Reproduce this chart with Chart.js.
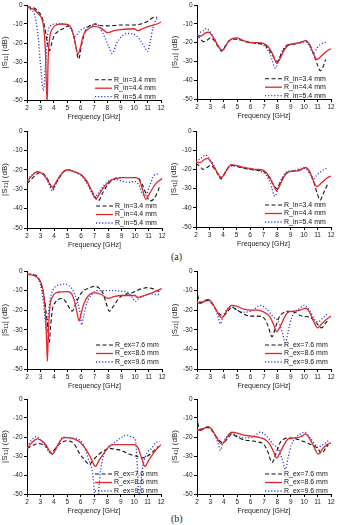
<!DOCTYPE html>
<html>
<head>
<meta charset="utf-8">
<script src="https://cdn.jsdelivr.net/npm/chart.js@4.4.1/dist/chart.umd.min.js"></script>
<style>
  html, body { margin: 0; padding: 0; background: #fff; }
  body { width: 340px; height: 525px; position: relative; overflow: hidden; }
  canvas { position: absolute; }
  .tag { position: absolute; font-family: "Liberation Serif", "DejaVu Serif", serif; font-size: 10px; color: #222; line-height: 12px; }
</style>
</head>
<body>
<div class="tag" style="left:171px;top:251px">(a)</div>
<div class="tag" style="left:171px;top:513px">(b)</div>
<script>
// ======================= DATA =========================
const FREQ_TICKS = [2, 3, 4, 5, 6, 7, 8, 9, 10, 11, 12];
const DB_TICKS = [0, -10, -20, -30, -40, -50];
const X_TITLE = "Frequency [GHz]";
const Y_TITLES = ["|S₁₁| (dB)", "|S₂₁| (dB)", "|S₃₁| (dB)", "|S₄₁| (dB)"];
const LABELS_A = ["R_in=3.4 mm", "R_in=4.4 mm", "R_in=5.4 mm"];
const LABELS_B = ["R_ex=7.6 mm", "R_ex=8.6 mm", "R_ex=9.6 mm"];

// (a) |S11|
const a11_34 = [[2,-1],[2.5,-1.5],[2.9,-4],[3.1,-6],[3.3,-11],[3.5,-19],[3.68,-24],[3.85,-20],[4.0,-16.5],[4.3,-14],[4.7,-12.5],[5.1,-11],[5.4,-14],[5.6,-20],[5.85,-28.5],[6.1,-20],[6.4,-13],[6.8,-10.5],[7.1,-10],[7.5,-10.8],[8,-11],[8.5,-10.8],[9,-10.5],[10,-10.5],[10.5,-10],[11,-8.5],[11.5,-6.5],[11.7,-6.5]];
const a11_44 = [[2,-1.2],[2.5,-2.3],[2.9,-5],[3.1,-7],[3.25,-12],[3.38,-25],[3.5,-52],[3.58,-28],[3.7,-17],[3.9,-12.5],[4.2,-10.5],[4.6,-10],[5.0,-10.2],[5.2,-11],[5.4,-14],[5.6,-20],[5.8,-26],[6.0,-22],[6.2,-16],[6.5,-13],[7.0,-11.2],[7.5,-12],[8.0,-14.5],[8.5,-13.5],[9,-13],[10,-12.5],[10.25,-13.5],[10.6,-12.5],[11.2,-11],[11.7,-10],[12,-9]];
const a11_54 = [[2,-2],[2.3,-2.6],[2.5,-4],[2.65,-8],[2.85,-18],[3.05,-35],[3.22,-45],[3.38,-32],[3.55,-15],[3.75,-11],[4.1,-10],[4.6,-10],[5.0,-10.5],[5.3,-13],[5.6,-16.5],[5.9,-14],[6.3,-12],[6.8,-11],[7.1,-10],[7.4,-11.5],[7.8,-17],[8.1,-22],[8.35,-25.5],[8.7,-20],[9,-17],[9.5,-15],[10,-15.5],[10.4,-18],[10.8,-22.5],[11.0,-24.5],[11.2,-19],[11.4,-12],[11.6,-8],[11.8,-7]];

// (a) |S21|
const a21_34 = [[2,-16],[2.2,-17.5],[2.5,-19.5],[2.8,-18.5],[3.0,-17.5],[3.3,-19],[3.6,-22.5],[3.85,-24.5],[4.1,-22],[4.4,-19],[4.7,-18],[5.2,-18.5],[5.6,-19.5],[6,-20],[6.5,-20.5],[7,-21],[7.4,-24],[7.7,-27.5],[8,-30],[8.3,-26],[8.7,-21.5],[9,-21],[9.5,-20.5],[10.1,-19],[10.4,-21],[10.7,-26],[11,-32],[11.2,-35],[11.4,-33],[11.6,-29]];
const a21_44 = [[2,-16],[2.3,-16.5],[2.6,-15],[2.85,-14.5],[3.1,-16],[3.4,-19.5],[3.7,-23],[3.85,-24],[4.0,-23.5],[4.3,-20],[4.6,-18],[5.0,-17.5],[5.5,-19],[6,-20],[6.5,-20],[7,-20.5],[7.4,-23],[7.7,-27],[7.95,-31],[8.2,-28.5],[8.5,-24],[8.8,-21.5],[9.2,-20.5],[9.7,-20],[10.1,-19],[10.4,-21],[10.7,-26],[10.95,-29],[11.3,-27],[11.7,-24.5],[12,-23.3]];
const a21_54 = [[2,-15],[2.4,-14],[2.7,-12.5],[3.0,-14.5],[3.3,-18],[3.6,-22],[3.85,-24.5],[4.1,-22],[4.4,-19],[4.7,-18],[5.2,-18.5],[5.7,-19.5],[6.2,-20],[6.8,-21],[7.2,-23],[7.5,-27],[7.85,-33.5],[8.1,-29],[8.4,-24],[8.8,-21],[9.3,-20.5],[9.8,-20],[10.1,-19.5],[10.4,-22],[10.7,-26],[10.95,-23],[11.2,-21],[11.5,-20],[11.7,-19.5]];

// (a) |S31|
const a31_34 = [[2,-27],[2.3,-25],[2.6,-23],[2.9,-21.5],[3.2,-22],[3.5,-24.5],[3.7,-27.5],[3.9,-30],[4.1,-27.5],[4.4,-24],[4.7,-21],[5.0,-20],[5.5,-21],[6.0,-22.5],[6.4,-26],[6.8,-31],[7.1,-34.5],[7.3,-36],[7.6,-32],[8.0,-27.5],[8.5,-24.5],[9,-24],[9.5,-24],[10.2,-24],[10.5,-27],[10.8,-32],[11.1,-36],[11.4,-35],[11.7,-31],[11.8,-29]];
const a31_44 = [[2,-26],[2.3,-23.5],[2.6,-21.5],[2.8,-21],[3.1,-21.8],[3.4,-24],[3.7,-27.5],[3.9,-29],[4.1,-27],[4.4,-23.5],[4.7,-21],[5.0,-20],[5.5,-21],[6.0,-22.5],[6.4,-25.5],[6.8,-31],[7.1,-35],[7.4,-32],[7.8,-28],[8.2,-25.5],[8.6,-24.5],[9,-24],[10,-24],[10.3,-25],[10.55,-30],[10.8,-35.2],[11.1,-32],[11.5,-27.5],[12,-24.5]];
const a31_54 = [[2,-25],[2.4,-22.5],[2.7,-21],[3.0,-21.5],[3.3,-23],[3.6,-27],[3.9,-31],[4.1,-28],[4.4,-24],[4.7,-21],[5.0,-20],[5.5,-21],[6.0,-23],[6.4,-26.5],[6.8,-32],[7.0,-34],[7.3,-32],[7.7,-28],[8.1,-25.5],[8.6,-25],[9.1,-26],[9.6,-26.5],[10,-26],[10.3,-28],[10.6,-33],[10.8,-33],[11.1,-28],[11.4,-23],[11.7,-22]];

// (a) |S41|
const a41_34 = [[2,-17],[2.3,-18.5],[2.5,-20],[2.8,-19],[3.1,-18],[3.4,-20],[3.7,-23.5],[3.85,-25],[4.1,-22.5],[4.4,-19],[4.7,-18],[5.3,-19],[6,-20],[6.5,-20.5],[7,-21],[7.4,-24],[7.7,-27.5],[8,-30],[8.3,-26],[8.7,-22],[9.1,-21],[9.6,-20.5],[10.1,-19],[10.4,-21],[10.7,-26],[11.0,-33],[11.2,-36],[11.4,-33],[11.6,-30],[11.8,-27]];
const a41_44 = [[2,-16],[2.3,-16.5],[2.6,-15],[2.85,-14.3],[3.1,-16],[3.4,-19.5],[3.7,-23],[3.85,-24],[4.0,-23.5],[4.3,-20],[4.6,-17.5],[5.0,-18],[5.5,-19],[6,-19.5],[6.5,-20],[7,-20.5],[7.4,-23.5],[7.7,-27.5],[7.95,-31],[8.2,-28.5],[8.5,-24],[8.8,-21.5],[9.2,-21],[9.7,-20.5],[10.1,-19],[10.4,-21],[10.7,-26],[10.95,-29],[11.3,-27],[11.7,-24.5],[12,-23.5]];
const a41_54 = [[2,-16],[2.3,-14.5],[2.5,-13.5],[2.7,-12.5],[3.0,-14.5],[3.3,-17.5],[3.6,-22],[3.85,-24.5],[4.1,-22],[4.4,-19],[4.7,-18],[5.2,-18.5],[5.7,-19.5],[6.2,-20],[6.8,-21],[7.2,-23],[7.5,-27],[7.85,-34],[8.1,-29],[8.4,-24],[8.8,-21],[9.3,-20.5],[9.8,-19.5],[10.1,-19.5],[10.4,-22],[10.7,-25],[10.95,-23],[11.2,-21.5],[11.5,-20],[11.8,-19]];

// (b) |S11|
const b11_76 = [[2,-1.5],[2.5,-2],[2.8,-3],[3.0,-6],[3.2,-11],[3.4,-20],[3.55,-30],[3.65,-36.5],[3.75,-28],[3.9,-19],[4.1,-16],[4.3,-14.5],[4.6,-14],[4.9,-16],[5.2,-19.5],[5.35,-20.5],[5.6,-17],[5.9,-12.5],[6.2,-10],[6.6,-8.8],[7.0,-7.8],[7.3,-8.5],[7.6,-11],[7.85,-16],[8.1,-20.5],[8.4,-18],[8.8,-14],[9.2,-12],[9.6,-11.5],[10,-10.5],[10.5,-9],[10.9,-8.5],[11.3,-9],[11.6,-10],[11.8,-10.5]];
const b11_86 = [[2,-1.7],[2.5,-2.2],[2.8,-3.5],[3.0,-5.5],[3.2,-10],[3.35,-20],[3.45,-35],[3.51,-46],[3.58,-32],[3.7,-18],[3.9,-13],[4.2,-11],[4.5,-10.7],[5.0,-10.5],[5.3,-11.5],[5.5,-15],[5.7,-21],[5.85,-25.5],[6.0,-22],[6.2,-17],[6.5,-13],[7.0,-11],[7.5,-12],[8.0,-14],[8.5,-13],[9,-12.5],[10,-12.5],[10.2,-13.5],[10.7,-12.5],[11.3,-11],[12,-9]];
const b11_96 = [[2,-1.5],[2.5,-2],[2.8,-3.5],[3.0,-7],[3.2,-15],[3.35,-25],[3.45,-30],[3.55,-24],[3.7,-15],[3.9,-10],[4.2,-7.5],[4.5,-7],[4.8,-6.5],[5.1,-7.5],[5.4,-10],[5.7,-15],[5.95,-22],[6.05,-27.5],[6.2,-23],[6.45,-16],[6.8,-12],[7.2,-10],[8,-10],[8.5,-10],[9,-10.3],[9.5,-11],[9.8,-13.5],[10.0,-15.5],[10.3,-14],[10.7,-12.5],[11.1,-11.5],[11.5,-12],[11.8,-12]];

// (b) |S21|
const b21_76 = [[2,-9],[2.1,-14],[2.2,-16],[2.5,-15.5],[2.8,-15],[3.1,-16.5],[3.4,-19.5],[3.7,-22],[3.95,-23],[4.2,-21.5],[4.6,-18.5],[5.0,-20],[5.5,-22],[6.0,-23],[6.5,-23],[7.0,-24],[7.3,-28],[7.6,-33.5],[7.85,-29],[8.1,-24],[8.4,-21.5],[8.8,-20.5],[9.3,-21],[9.8,-23],[10.4,-23.5],[10.9,-26.5],[11.3,-29],[11.6,-26.5],[11.8,-25]];
const b21_86 = [[2,-16],[2.3,-16.5],[2.6,-15],[2.85,-14.5],[3.1,-16],[3.4,-19.5],[3.7,-23],[3.85,-24],[4.0,-23],[4.3,-19.5],[4.6,-17.5],[5.0,-18],[5.5,-19.5],[6,-20],[6.5,-20],[7,-21],[7.4,-23],[7.7,-27],[7.95,-31],[8.2,-28.5],[8.5,-24],[8.8,-21],[9.2,-20.5],[9.7,-20],[10.1,-19],[10.4,-21],[10.7,-25.5],[11.0,-29],[11.3,-27],[11.7,-24.5],[12,-23]];
const b21_96 = [[2,-16],[2.4,-16],[2.8,-15],[3.1,-16],[3.4,-20],[3.6,-24],[3.75,-27],[3.9,-24],[4.1,-21],[4.5,-18],[5.0,-20],[5.5,-21],[6.2,-20],[6.7,-17.5],[7.2,-19.5],[7.7,-23.5],[8.05,-25.5],[8.35,-31],[8.6,-36.5],[8.8,-31],[9.05,-24],[9.3,-21],[9.7,-19],[10.0,-17.5],[10.4,-20],[10.8,-25],[11.0,-26],[11.4,-24],[11.7,-22]];

// (b) |S31|
const b31_76 = [[2,-26],[2.4,-24.5],[2.8,-23.5],[3.2,-24],[3.5,-25.5],[3.8,-28.5],[4.0,-27],[4.3,-24.5],[4.7,-22.5],[5.0,-22],[5.5,-23.5],[5.95,-29],[6.3,-32],[6.65,-34.5],[6.9,-32.5],[7.3,-29.5],[7.8,-27],[8.2,-26],[8.6,-26.5],[9.0,-27],[9.6,-29],[10.1,-30],[10.6,-31],[11.0,-30],[11.5,-27],[11.8,-25]];
const b31_86 = [[2,-26],[2.3,-23.5],[2.6,-21.5],[2.8,-21],[3.1,-22],[3.4,-24],[3.7,-27.5],[3.9,-29],[4.1,-27],[4.4,-23],[4.7,-20.5],[4.9,-20.3],[5.5,-21],[6.0,-23],[6.4,-26.5],[6.8,-31.5],[7.1,-35.5],[7.4,-32],[7.8,-28],[8.2,-24.5],[8.6,-24],[9,-24],[10,-24],[10.3,-26],[10.55,-31],[10.8,-35.5],[11.1,-32],[11.6,-27],[12,-24]];
const b31_96 = [[2,-25],[2.3,-22],[2.7,-19.8],[3.0,-21.5],[3.3,-24],[3.6,-27.5],[3.9,-29],[4.1,-27],[4.4,-23],[4.7,-20],[5.2,-20.5],[5.8,-21],[6.2,-24],[6.55,-31],[6.95,-42],[7.05,-51],[7.3,-51],[7.45,-40],[7.7,-30],[8.2,-25],[8.7,-22],[9.1,-20],[9.45,-19],[9.8,-20],[10.1,-22],[10.25,-38],[10.35,-51],[10.5,-44],[10.66,-35],[11.0,-28],[11.3,-26],[11.6,-23],[11.9,-22.4]];

// (b) |S41|
const b41_76 = [[2,-9],[2.1,-14],[2.2,-16],[2.5,-15.5],[2.8,-15],[3.1,-16.5],[3.4,-19.5],[3.7,-22],[3.95,-23],[4.2,-21.5],[4.6,-18.5],[5.0,-20],[5.5,-21.5],[6.0,-22],[6.5,-22.5],[7.0,-24],[7.3,-28],[7.6,-33.5],[7.9,-28.5],[8.2,-23],[8.5,-21],[8.9,-20.5],[9.4,-21],[10,-22.5],[10.5,-24],[11,-26],[11.3,-28.5],[11.6,-26],[11.8,-24]];
const b41_86 = [[2,-16.3],[2.3,-16.5],[2.6,-15],[2.85,-14.5],[3.1,-16],[3.4,-19.5],[3.7,-23],[3.85,-23.8],[4.0,-23],[4.3,-19.5],[4.6,-17.5],[5.0,-18],[5.5,-19],[6,-19.5],[6.5,-20],[7,-21],[7.4,-23.5],[7.7,-27.5],[7.95,-31],[8.2,-28],[8.5,-24],[8.8,-21],[9.2,-20.5],[9.7,-20],[10.1,-18.5],[10.5,-22],[10.85,-27],[11.05,-29],[11.4,-26],[11.7,-24],[12,-23]];
const b41_96 = [[2,-16],[2.4,-16],[2.8,-15],[3.1,-16],[3.4,-20],[3.6,-24],[3.75,-27],[3.9,-24],[4.1,-21],[4.5,-18],[5.0,-19.5],[5.5,-20.5],[6.2,-20],[6.7,-17.5],[7.2,-19.5],[7.7,-24],[8.05,-26],[8.35,-31.5],[8.6,-37],[8.8,-31],[9.05,-24],[9.3,-21],[9.7,-18.5],[10.0,-17.5],[10.4,-20],[10.8,-24],[11.0,-25.5],[11.4,-24],[11.8,-22]];

// ======================= STYLES =========================
const LINE_STYLES = [
  { borderColor: "#111", borderDash: [4, 2.5], borderWidth: 1.1, order: 1 },
  { borderColor: "#e0262e", borderDash: [], borderWidth: 1.3, order: 0 },
  { borderColor: "#2432c8", borderDash: [1.1, 2], borderWidth: 1.3, order: 2 }
];
const TICK_FONT = { family: "'Liberation Sans', Arial, sans-serif", size: 6.5 };
const TITLE_FONT = { family: "'Liberation Sans', Arial, sans-serif", size: 7 };
const YTITLE_FONT = { family: "'Liberation Sans', Arial, sans-serif", size: 8 };

// legend drawn inside the plot, bottom right
const insideLegend = {
  id: "insideLegend",
  afterDatasetsDraw(chart, args, opts) {
    const ctx = chart.ctx, a = chart.chartArea;
    ctx.save();
    ctx.font = "7px 'Liberation Sans', Arial, sans-serif";
    ctx.textBaseline = "middle";
    chart.data.datasets.forEach((ds, i) => {
      const y = a.bottom - opts.bottom - (2 - i) * 8.5;
      ctx.strokeStyle = ds.borderColor;
      ctx.lineWidth = ds.borderWidth;
      ctx.setLineDash(ds.borderDash || []);
      ctx.beginPath();
      ctx.moveTo(a.right - 66, y);
      ctx.lineTo(a.right - 49, y);
      ctx.stroke();
      ctx.setLineDash([]);
      ctx.fillStyle = "#111";
      ctx.fillText(ds.label, a.right - 47, y);
    });
    ctx.restore();
  }
};

// ======================= PANELS =========================
function makePanel(box, yTitle, labels, series, legendBottom) {
  const w = box.R - box.L + 36, h = box.B - box.T + 28;
  const cv = document.createElement("canvas");
  cv.width = w; cv.height = h;
  cv.style.left = (box.L - 27) + "px";
  cv.style.top = (box.T - 6) + "px";
  cv.style.width = w + "px";
  cv.style.height = h + "px";
  document.body.appendChild(cv);

  new Chart(cv, {
    type: "line",
    data: {
      datasets: series.map((pts, i) => ({
        label: labels[i],
        data: pts.map(([x, y]) => ({ x, y })),
        ...LINE_STYLES[i],
        pointRadius: 0,
        fill: false,
        cubicInterpolationMode: "monotone"
      }))
    },
    options: {
      responsive: false,
      animation: false,
      events: [],
      layout: { padding: { top: 6, right: 9, left: 0, bottom: 0 } },
      plugins: { legend: { display: false }, tooltip: { enabled: false }, insideLegend: { bottom: legendBottom } },
      scales: {
        x: {
          type: "linear", min: 2, max: 12,
          afterBuildTicks: s => { s.ticks = FREQ_TICKS.map(v => ({ value: v })); },
          afterFit: s => { s.height = 22; },
          ticks: { font: TICK_FONT, color: "#222", padding: 1, maxRotation: 0, autoSkip: false },
          grid: { drawOnChartArea: false, drawTicks: true, tickLength: 3, color: "#000" },
          border: { display: true, color: "#000", width: 1 },
          title: { display: true, text: X_TITLE, font: TITLE_FONT, color: "#222", padding: { top: 0, bottom: 1 } }
        },
        y: {
          type: "linear", min: -50, max: 0,
          afterBuildTicks: s => { s.ticks = DB_TICKS.map(v => ({ value: v })); },
          afterFit: s => { s.width = 27; },
          ticks: { font: TICK_FONT, color: "#222", padding: 1.5, autoSkip: false },
          grid: { drawOnChartArea: false, drawTicks: true, tickLength: 3, color: "#000" },
          border: { display: true, color: "#000", width: 1 },
          title: { display: true, text: yTitle, font: YTITLE_FONT, color: "#222", padding: 0 }
        }
      }
    },
    plugins: [insideLegend]
  });
}

makePanel({ L: 27, T: 5, R: 161, B: 100 }, Y_TITLES[0], LABELS_A, [a11_34, a11_44, a11_54], 3.3);
makePanel({ L: 197, T: 5, R: 331, B: 99 }, Y_TITLES[1], LABELS_A, [a21_34, a21_44, a21_54], 3.3);
makePanel({ L: 27, T: 131, R: 162, B: 228 }, Y_TITLES[2], LABELS_A, [a31_34, a31_44, a31_54], 5);
makePanel({ L: 196, T: 131, R: 331, B: 227 }, Y_TITLES[3], LABELS_A, [a41_34, a41_44, a41_54], 5);
makePanel({ L: 27, T: 271, R: 162, B: 369 }, Y_TITLES[0], LABELS_B, [b11_76, b11_86, b11_96], 7);
makePanel({ L: 197, T: 271, R: 331, B: 369 }, Y_TITLES[1], LABELS_B, [b21_76, b21_86, b21_96], 7);
makePanel({ L: 27, T: 399, R: 161, B: 494 }, Y_TITLES[2], LABELS_B, [b31_76, b31_86, b31_96], 3);
makePanel({ L: 197, T: 399, R: 331, B: 494 }, Y_TITLES[3], LABELS_B, [b41_76, b41_86, b41_96], 3);
</script>
</body>
</html>
